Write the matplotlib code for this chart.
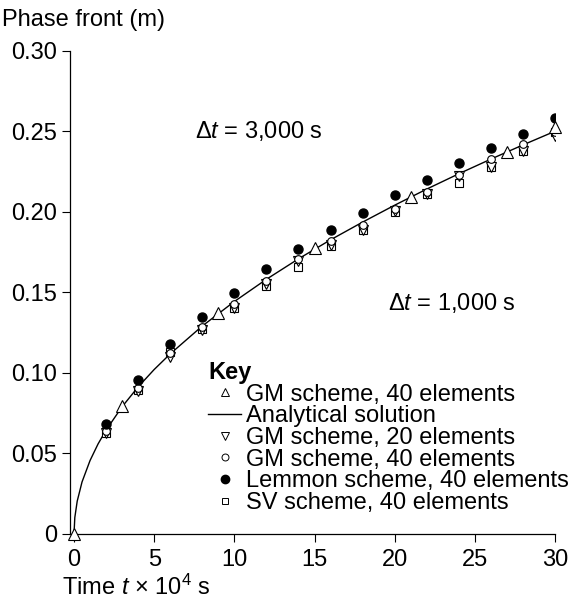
import matplotlib
matplotlib.use("Agg")
import matplotlib.pyplot as plt
from matplotlib.lines import Line2D
from matplotlib.ticker import FixedLocator, FuncFormatter

plt.rcParams['font.family'] = ['Liberation Sans', 'DejaVu Sans']
plt.rcParams['mathtext.fontset'] = 'custom'
plt.rcParams['mathtext.rm'] = 'Liberation Sans'
plt.rcParams['mathtext.it'] = 'Liberation Sans:italic'

# ---- data (time in 1e4 s, phase front in m) ----
t_analytic = [0, 0.05, 0.2, 0.5, 1, 1.5, 2, 3, 4, 5, 6, 8, 10, 12, 14, 16, 18, 20, 22, 24, 26, 28, 30]
x_analytic = [0, 0.0102, 0.0204, 0.0323, 0.0456, 0.0559, 0.0645, 0.0790, 0.0913, 0.1021, 0.1118,
              0.1291, 0.1443, 0.1581, 0.1708, 0.1826, 0.1936, 0.2041, 0.2141, 0.2236, 0.2327, 0.2415, 0.2500]

t_gm40_dt3000 = [0, 3, 9, 15, 21, 27, 30]
x_gm40_dt3000 = [0, 0.0794, 0.1373, 0.1776, 0.2092, 0.2372, 0.2525]

t_grid = [2, 4, 6, 8, 10, 12, 14, 16, 18, 20, 22, 24, 26, 28, 30]
x_gm20 = [0.0625, 0.0885, 0.1100, 0.1266, 0.1405, 0.1550, 0.1695, 0.1795, 0.1890, 0.2006, 0.2113, 0.2223, 0.2279, 0.2376, 0.2469]
x_gm40 = [0.0638, 0.0905, 0.1125, 0.1288, 0.1430, 0.1570, 0.1710, 0.1820, 0.1920, 0.2015, 0.2125, 0.2231, 0.2326, 0.2419, 0.2496]
x_lemmon = [0.0682, 0.0955, 0.1179, 0.1350, 0.1498, 0.1644, 0.1772, 0.1886, 0.1993, 0.2103, 0.2200, 0.2306, 0.2397, 0.2481, 0.2583]
x_sv = [0.0625, 0.0893, 0.1131, 0.1270, 0.1400, 0.1540, 0.1658, 0.1787, 0.1886, 0.2000, 0.2110, 0.2180, 0.2275, 0.2376, 0.2496]

x_ticks = [0, 5, 10, 15, 20, 25, 30]
y_ticks = [0, 0.05, 0.10, 0.15, 0.20, 0.25, 0.30]

legend_labels = ["GM scheme, 40 elements", "Analytical solution", "GM scheme, 20 elements",
                 "GM scheme, 40 elements", "Lemmon scheme, 40 elements", "SV scheme, 40 elements"]

FS = 17

fig = plt.figure(figsize=(5.73, 6.0), dpi=100)
ax = fig.add_axes([70/573, 1 - 534/600, (555 - 70)/573, (534 - 50.7)/600])

ax.plot(t_analytic, x_analytic, color='black', lw=1.0, zorder=2)
ax.plot(t_grid, x_sv, ls='none', marker='s', ms=5.5, mfc='white', mec='black', mew=0.8, zorder=3)
ax.plot(t_grid, x_gm20, ls='none', marker='v', ms=6.5, mfc='white', mec='black', mew=0.8, zorder=4)
ax.plot(t_grid, x_gm40, ls='none', marker='o', ms=5.5, mfc='white', mec='black', mew=0.8, zorder=4)
ax.plot(t_grid, x_lemmon, ls='none', marker='o', ms=6.5, mfc='black', mec='black', zorder=5)
ax.plot(t_gm40_dt3000, x_gm40_dt3000, ls='none', marker='^', ms=9, mfc='white', mec='black', mew=0.8,
        zorder=5, clip_on=False)

ax.set_xlim(-0.25, 30)
ax.set_ylim(0, 0.30)
ax.xaxis.set_major_locator(FixedLocator(x_ticks))
ax.yaxis.set_major_locator(FixedLocator(y_ticks))
ax.yaxis.set_major_formatter(FuncFormatter(lambda v, p: "0" if abs(v) < 1e-9 else f"{v:.2f}"))
ax.tick_params(axis='both', direction='out', length=6, width=0.8, labelsize=FS, color='black')
ax.tick_params(axis='x', pad=5)
ax.tick_params(axis='y', pad=3)
for s in ['top', 'right']:
    ax.spines[s].set_visible(False)
for s in ['left', 'bottom']:
    ax.spines[s].set_linewidth(0.9)

fig.text(2/573, 1 - 20/600, "Phase front (m)", fontsize=FS, ha='left', va='center')
fig.text(62/573, 1 - 595/600, r"Time $t$ $\times$ 10$^{4}$ s", fontsize=FS, ha='left', va='baseline')

ax.text(7.55, 0.250, r"$\Delta t$ = 3,000 s", fontsize=FS, ha='left', va='center')
ax.text(19.6, 0.1433, r"$\Delta t$ = 1,000 s", fontsize=FS, ha='left', va='center')

handles = [
    Line2D([], [], ls='none', marker='^', ms=6, mfc='white', mec='black', mew=0.7),
    Line2D([], [], color='black', lw=1.0),
    Line2D([], [], ls='none', marker='v', ms=5.5, mfc='white', mec='black', mew=0.7),
    Line2D([], [], ls='none', marker='o', ms=5, mfc='white', mec='black', mew=0.7),
    Line2D([], [], ls='none', marker='o', ms=6, mfc='black', mec='black'),
    Line2D([], [], ls='none', marker='s', ms=5, mfc='white', mec='black', mew=0.7),
]
leg = ax.legend(handles, legend_labels, title="Key", loc='upper left',
                bbox_to_anchor=(208/573, 1 - 361/600), bbox_transform=fig.transFigure,
                frameon=False, fontsize=FS, title_fontproperties={'weight': 'bold', 'size': FS},
                handlelength=1.4, handletextpad=0.2, labelspacing=-0.015, borderpad=0,
                borderaxespad=0, alignment='left')

fig.savefig("out.png", dpi=100)
